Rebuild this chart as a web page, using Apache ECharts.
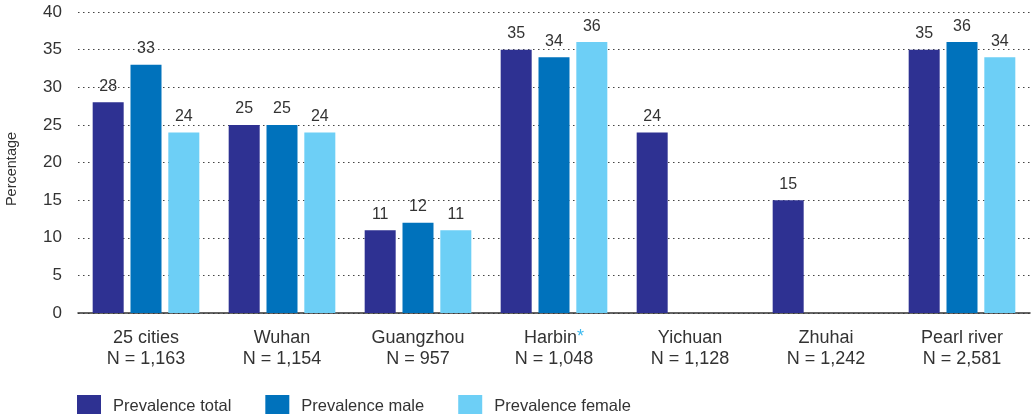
<!DOCTYPE html>
<html>
<head>
<meta charset="utf-8">
<script src="https://cdn.jsdelivr.net/npm/echarts@6/dist/echarts.min.js"></script>
<style>
html, body { margin: 0; padding: 0; background: #fff; }
#chart { width: 1032px; height: 414px; }
</style>
</head>
<body>
<div id="chart"></div>
<script>
const cities = ['25 cities', 'Wuhan', 'Guangzhou', 'Harbin', 'Yichuan', 'Zhuhai', 'Pearl river']
const sampleN = ['1,163', '1,154', '957', '1,048', '1,128', '1,242', '2,581']
const flagged = ['Harbin']
const totalVals = [28, 25, 11, 35, 24, 15, 35]
const maleVals = [33, 25, 12, 34, null, null, 36]
const femaleVals = [24, 24, 11, 36, null, null, 34]
const seriesNames = ['Prevalence total', 'Prevalence male', 'Prevalence female']
const colors = ['#2e3192', '#0072bc', '#6dcff6']

const FONT = '"Liberation Sans", Arial, sans-serif'
const TXT = '#333333'

const chart = echarts.init(document.getElementById('chart'))

const barSeries = [totalVals, maleVals, femaleVals].map((vals, i) => ({
  name: seriesNames[i],
  type: 'bar',
  data: vals,
  barWidth: 31,
  barGap: '22%',
  itemStyle: { color: colors[i] },
  label: {
    show: true,
    position: 'top',
    distance: 8,
    color: TXT,
    fontFamily: FONT,
    fontSize: 16
  }
}))

chart.setOption({
  animation: false,
  color: colors,
  grid: { left: 78, right: 2, top: 12, bottom: 101, outerBoundsMode: 'none' },
  legend: {
    left: 72,
    top: 390,
    itemWidth: 24,
    itemHeight: 22,
    itemGap: 34,
    icon: 'rect',
    textStyle: { color: TXT, fontFamily: FONT, fontSize: 16.5, padding: [0, 0, 0, 7] },
    data: seriesNames
  },
  xAxis: {
    type: 'category',
    data: cities,
    axisLine: { lineStyle: { color: '#333', width: 1.5 } },
    axisTick: { show: false },
    axisLabel: {
      margin: 15,
      color: TXT,
      fontFamily: FONT,
      fontSize: 18,
      lineHeight: 21,
      interval: 0,
      formatter: (v, idx) => {
        const name = flagged.includes(v) ? '{n|' + v + '}{s|*}' : '{n|' + v + '}'
        return name + '\n{n|N = ' + sampleN[idx] + '}'
      },
      rich: {
        n: { color: TXT, fontFamily: FONT, fontSize: 18, lineHeight: 21 },
        s: { color: '#3cb9ee', fontFamily: FONT, fontSize: 18, lineHeight: 21, verticalAlign: 'top' }
      }
    }
  },
  yAxis: {
    type: 'value',
    min: 0,
    max: 40,
    interval: 5,
    name: 'Percentage',
    nameLocation: 'middle',
    nameGap: 59,
    nameTextStyle: { color: TXT, fontFamily: FONT, fontSize: 14.5, padding: [0, 13, 0, 0] },
    axisLine: { show: false },
    axisTick: { show: false },
    axisLabel: { margin: 16, color: TXT, fontFamily: FONT, fontSize: 17 },
    splitLine: { lineStyle: { color: '#444', type: [1.5, 3.5], width: 1 } }
  },
  series: barSeries
})
</script>
</body>
</html>
